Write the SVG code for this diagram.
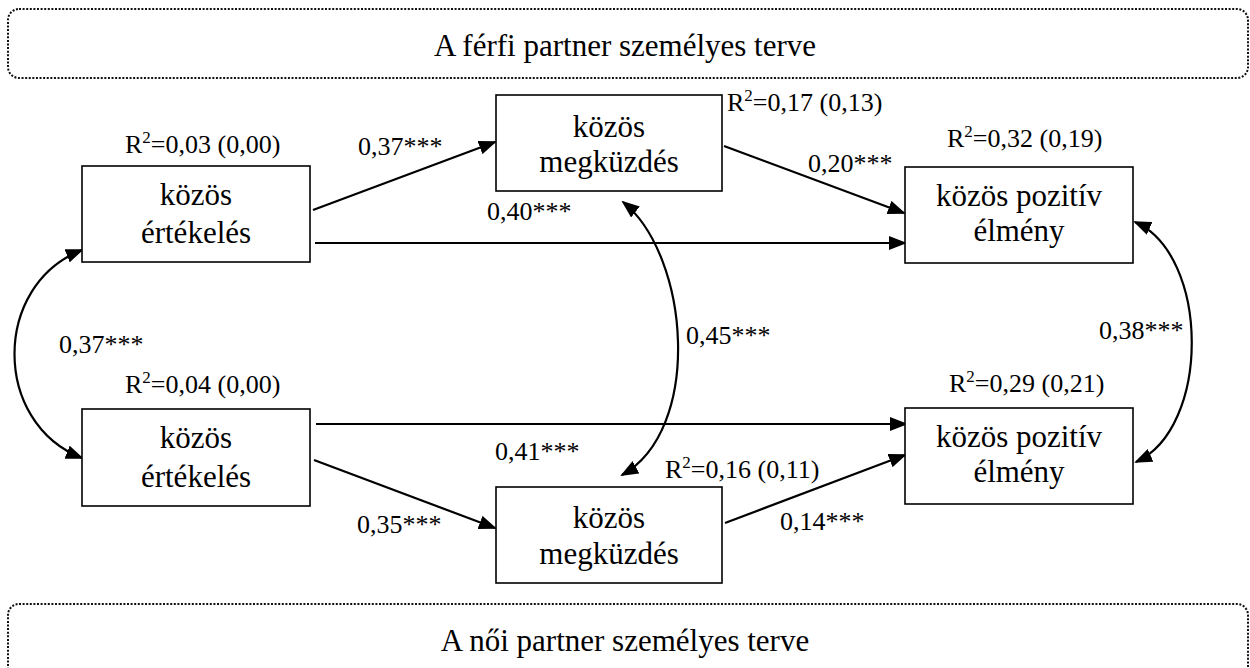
<svg xmlns="http://www.w3.org/2000/svg" width="1250" height="668" viewBox="0 0 1250 668">
<style>
.frame{fill:none;stroke:#111;stroke-width:2;stroke-dasharray:2 1.6}
.box{fill:#fff;stroke:#000;stroke-width:1.6}
.title{font-family:"Liberation Serif","Times New Roman",serif;font-size:31px;fill:#000;text-anchor:middle}
.node{font-family:"Liberation Serif","Times New Roman",serif;font-size:31px;fill:#000;text-anchor:middle}
.lbl{font-family:"Liberation Serif","Times New Roman",serif;font-size:26px;fill:#000}
.sup{font-size:17px}
.edge{fill:none;stroke:#000;stroke-width:2.2}
</style>
<defs>
<marker id="ah" markerUnits="userSpaceOnUse" markerWidth="18" markerHeight="14" viewBox="0 0 18 14" refX="16" refY="7" orient="auto-start-reverse">
<path d="M0,0 L18,7 L0,14 z" fill="#000"/>
</marker>
</defs>

<g id="frame-top">
<rect class="frame" x="8" y="9" width="1240" height="69" rx="11"/>
<text class="title" x="625" y="56">A férfi partner személyes terve</text>
</g>
<g id="frame-bottom">
<rect class="frame" x="8" y="604" width="1240" height="80" rx="11"/>
<text class="title" x="625" y="651">A női partner személyes terve</text>
</g>

<g id="connectors">
<path class="edge" d="M313,210 L495,142" marker-end="url(#ah)"/>
<path class="edge" d="M315,243 L905,243" marker-end="url(#ah)"/>
<path class="edge" d="M724,146 L904,213" marker-end="url(#ah)"/>
<path class="edge" d="M316,424 L906,424" marker-end="url(#ah)"/>
<path class="edge" d="M314,460 L495,528" marker-end="url(#ah)"/>
<path class="edge" d="M725,523 L905,455" marker-end="url(#ah)"/>
<path class="edge" d="M82,250 C-8,285 -8,423 82,458" marker-start="url(#ah)" marker-end="url(#ah)"/>
<path class="edge" d="M623,202 C690,256 703,430 622,475" marker-start="url(#ah)" marker-end="url(#ah)"/>
<path class="edge" d="M1135,222 C1210,255 1211,428 1136,462" marker-start="url(#ah)" marker-end="url(#ah)"/>
</g>

<g id="labels">
<text class="lbl" x="358" y="155">0,37***</text>
<text class="lbl" x="808" y="172">0,20***</text>
<text class="lbl" x="487" y="220">0,40***</text>
<text class="lbl" x="59" y="353">0,37***</text>
<text class="lbl" x="686" y="344">0,45***</text>
<text class="lbl" x="1099" y="339">0,38***</text>
<text class="lbl" x="495" y="460">0,41***</text>
<text class="lbl" x="357" y="533">0,35***</text>
<text class="lbl" x="780" y="530">0,14***</text>
<text class="lbl" x="125" y="153">R<tspan class="sup" dy="-10">2</tspan><tspan dy="10">=0,03 (0,00)</tspan></text>
<text class="lbl" x="727" y="111">R<tspan class="sup" dy="-10">2</tspan><tspan dy="10">=0,17 (0,13)</tspan></text>
<text class="lbl" x="947" y="147">R<tspan class="sup" dy="-10">2</tspan><tspan dy="10">=0,32 (0,19)</tspan></text>
<text class="lbl" x="125" y="393">R<tspan class="sup" dy="-10">2</tspan><tspan dy="10">=0,04 (0,00)</tspan></text>
<text class="lbl" x="949" y="392">R<tspan class="sup" dy="-10">2</tspan><tspan dy="10">=0,29 (0,21)</tspan></text>
<text class="lbl" x="665" y="478">R<tspan class="sup" dy="-10">2</tspan><tspan dy="10">=0,16 (0,11)</tspan></text>
</g>

<g id="m-ertekeles">
<rect class="box" x="82" y="166" width="228" height="96"/>
<text class="node" x="196" y="205">közös</text>
<text class="node" x="196" y="243">értékelés</text>
</g>
<g id="m-megkuzdes">
<rect class="box" x="496" y="95" width="226" height="96"/>
<text class="node" x="609" y="137">közös</text>
<text class="node" x="609" y="172">megküzdés</text>
</g>
<g id="m-elmeny">
<rect class="box" x="905" y="167" width="228" height="96"/>
<text class="node" x="1019" y="206">közös pozitív</text>
<text class="node" x="1019" y="241">élmény</text>
</g>
<g id="f-ertekeles">
<rect class="box" x="82" y="409" width="228" height="97"/>
<text class="node" x="196" y="448">közös</text>
<text class="node" x="196" y="487">értékelés</text>
</g>
<g id="f-megkuzdes">
<rect class="box" x="496" y="487" width="226" height="96"/>
<text class="node" x="609" y="528">közös</text>
<text class="node" x="609" y="564">megküzdés</text>
</g>
<g id="f-elmeny">
<rect class="box" x="905" y="408" width="228" height="96"/>
<text class="node" x="1019" y="447">közös pozitív</text>
<text class="node" x="1019" y="482">élmény</text>
</g>
</svg>
